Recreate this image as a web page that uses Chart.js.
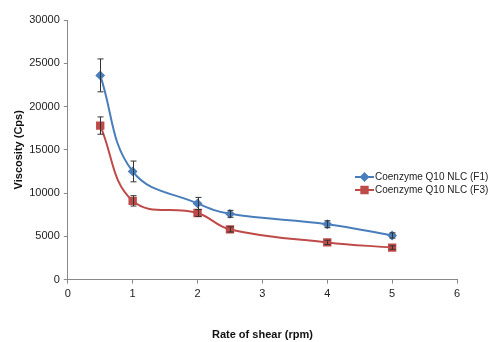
<!DOCTYPE html>
<html>
<head>
<meta charset="utf-8">
<script src="https://cdn.jsdelivr.net/npm/chart.js@4"></script>
<style>
  body { margin: 0; background: #fff; }
  #wrap { width: 489px; height: 342px; }
</style>
</head>
<body>
<div id="wrap"><canvas id="viscosityChart"></canvas></div>
<script>
// shear rate (rpm)
const shearRates = [0.5, 1, 2, 2.5, 4, 5];
// viscosity (Cps) and standard deviations
const f1Values = [23600, 12500, 8800, 7600, 6400, 5100];
const f1Errors = [1900, 1200, 700, 400, 400, 300];
const f3Values = [17800, 9100, 7700, 5800, 4300, 3700];
const f3Errors = [1000, 600, 400, 300, 250, 200];
const seriesLabels = ['Coenzyme Q10 NLC (F1)', 'Coenzyme Q10 NLC (F3)'];

const blue = '#4a7ebb';
const red = '#be4b48';
const font = '"Liberation Sans", Arial, sans-serif';

// draws error bars from the errors array of each dataset
const errorBars = {
    id: 'errorBars',
    afterDatasetsDraw(chart) {
        const ctx = chart.ctx;
        const xs = chart.scales.x, ys = chart.scales.y;
        ctx.save();
        ctx.strokeStyle = '#333';
        ctx.lineWidth = 1;
        chart.data.datasets.forEach(ds => {
            ds.data.forEach((p, i) => {
                const e = ds.errors[i];
                const px = Math.round(xs.getPixelForValue(p.x)) + 0.5;
                const top = ys.getPixelForValue(p.y + e);
                const bot = ys.getPixelForValue(p.y - e);
                ctx.beginPath();
                ctx.moveTo(px, top); ctx.lineTo(px, bot);
                ctx.moveTo(px - 3, top); ctx.lineTo(px + 3, top);
                ctx.moveTo(px - 3, bot); ctx.lineTo(px + 3, bot);
                ctx.stroke();
            });
        });
        ctx.restore();
    }
};

// legend drawn inside the right side of the plot like the original
const sideLegend = {
    id: 'sideLegend',
    afterDraw(chart) {
        const ctx = chart.ctx;
        const rows = [
            { y: 177, color: blue, style: 'rectRot', r: 3.5, text: seriesLabels[0] },
            { y: 190, color: red, style: 'rect', r: 4.5, text: seriesLabels[1] }
        ];
        ctx.save();
        ctx.font = '10px ' + font;
        ctx.textBaseline = 'middle';
        rows.forEach(row => {
            ctx.strokeStyle = row.color;
            ctx.lineWidth = 2;
            ctx.beginPath();
            ctx.moveTo(355, row.y); ctx.lineTo(374, row.y);
            ctx.stroke();
            Chart.helpers.drawPoint(ctx, {
                pointStyle: row.style, radius: row.r, borderWidth: 1
            }, 364.5, row.y);
            ctx.fillStyle = row.color;
            ctx.fill();
            ctx.fillStyle = '#222';
            ctx.fillText(row.text, 375, row.y);
        });
        ctx.restore();
    }
};

new Chart(document.getElementById('viscosityChart'), {
    type: 'line',
    data: {
        datasets: [{
            label: seriesLabels[0],
            data: shearRates.map((x, i) => ({ x: x, y: f1Values[i] })),
            errors: f1Errors,
            borderColor: blue,
            backgroundColor: blue,
            borderWidth: 2,
            pointStyle: 'rectRot',
            pointRadius: 3.5,
            tension: 0.4,
            fill: false
        }, {
            label: seriesLabels[1],
            data: shearRates.map((x, i) => ({ x: x, y: f3Values[i] })),
            errors: f3Errors,
            borderColor: red,
            backgroundColor: red,
            borderWidth: 2,
            pointStyle: 'rect',
            pointRadius: 4.5,
            tension: 0.4,
            fill: false
        }]
    },
    options: {
        responsive: true,
        maintainAspectRatio: false,
        animation: false,
        layout: { padding: { top: 20, right: 32, left: 8, bottom: 0 } },
        plugins: {
            legend: { display: false },
            tooltip: { enabled: false }
        },
        scales: {
            x: {
                type: 'linear',
                min: 0,
                max: 6,
                ticks: {
                    stepSize: 1,
                    color: '#222',
                    padding: 4,
                    font: { size: 11, family: font }
                },
                grid: { drawOnChartArea: false, tickLength: 4, color: '#888' },
                border: { color: '#888' },
                title: {
                    display: true,
                    text: 'Rate of shear (rpm)',
                    color: '#111',
                    padding: { top: 24, bottom: 0 },
                    font: { size: 11, weight: 'bold', family: font }
                }
            },
            y: {
                min: 0,
                max: 30000,
                ticks: {
                    stepSize: 5000,
                    color: '#222',
                    padding: 4,
                    font: { size: 11, family: font },
                    callback: v => String(v)
                },
                grid: { drawOnChartArea: false, tickLength: 4, color: '#888' },
                border: { color: '#888' },
                title: {
                    display: true,
                    text: 'Viscosity (Cps)',
                    color: '#111',
                    padding: { bottom: 0 },
                    font: { size: 11, weight: 'bold', family: font }
                }
            }
        }
    },
    plugins: [errorBars, sideLegend]
});
</script>
</body>
</html>
